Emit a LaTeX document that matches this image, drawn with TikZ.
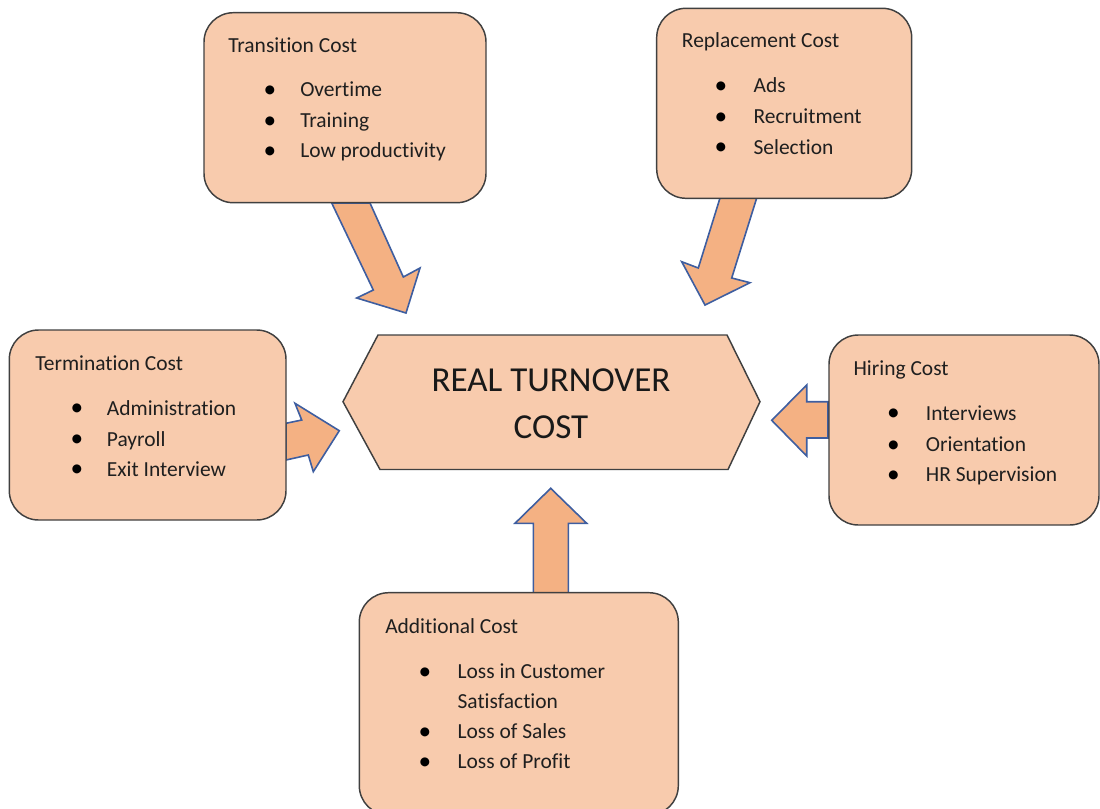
\documentclass[tikz,border=0pt]{standalone}
\usepackage{fontspec}
\setmainfont{Carlito}[Ligatures=NoCommon]
\definecolor{boxfill}{HTML}{F8CBAD}
\definecolor{arrfill}{HTML}{F4B183}
\definecolor{arrline}{RGB}{62,94,160}
\definecolor{boxline}{HTML}{404040}
\begin{document}
\begin{tikzpicture}[x=0.75pt,y=-0.75pt,
  costbox/.style={draw=boxline, fill=boxfill, line width=1.1pt, rounded corners=22pt},
  hexbox/.style={draw=boxline, fill=boxfill, line width=1.1pt, line join=miter},
  blockarrow/.style={draw=arrline, fill=arrfill, line width=1.2pt, line join=miter},
  txt/.style={inner sep=0pt, anchor=base west, font=\fontsize{16.1}{19}\selectfont, text=black!88},
  bul/.style={inner sep=0pt, anchor=base, font=\fontsize{19}{19}\selectfont, text=black},
  big/.style={inner sep=0pt, anchor=base, font=\fontsize{26.3}{32}\selectfont, text=black!90}
]
\useasboundingbox (0,0) rectangle (1100,808);
\clip (0,0) rectangle (1100,808);

% block arrows
\draw[blockarrow] (331.7,203) -- (373.3,290) -- (356.7,298) -- (406,313) -- (420,268) -- (403.3,277) -- (370,203) -- cycle;
\draw[blockarrow] (720,198) -- (698.3,268) -- (681.7,261.7) -- (705,305) -- (750,282.7) -- (731.7,278) -- (756.7,198) -- cycle;
\draw[blockarrow] (286,423.3) -- (301.7,420) -- (295,403.3) -- (339.3,430.7) -- (313.3,471.7) -- (308.3,455) -- (286,460) -- cycle;
\draw[blockarrow] (828,401.7) -- (806.7,401.7) -- (806.7,385) -- (771.7,420.3) -- (806.7,456) -- (806.7,438) -- (828,438) -- cycle;
\draw[blockarrow] (533.3,593) -- (533.3,523.3) -- (515,523.3) -- (550.7,488.3) -- (586.7,523.3) -- (568.3,523.3) -- (568.3,593) -- cycle;

% boxes
\draw[costbox] (204,12.7) rectangle (486,202.7);
\draw[costbox] (656.7,8.3) rectangle (911.7,198.3);
\draw[costbox] (9.3,330) rectangle (286,520);
\draw[costbox] (829,335) rectangle (1099,525);
\draw[costbox] (359.3,592.7) rectangle (678.3,815);

% central hexagon
\draw[hexbox] (343,401.7) -- (378,335) -- (727,335) -- (760,401.7) -- (728,469.5) -- (380,469.5) -- cycle;
\node[big] (c1) at (551,391.7) {REAL TURNOVER};
\node[big] (c2) at (551,438.3) {COST};

% Transition Cost
\node[txt] (t0) at (228,52.3) {Transition Cost};
\node[bul] (tb1) at (270,97.5) {•};
\node[txt] (t1) at (300,96.7) {Overtime};
\node[bul] (tb2) at (270,128.3) {•};
\node[txt] (t2) at (300,127.5) {Training};
\node[bul] (tb3) at (270,158.5) {•};
\node[txt] (t3) at (300,157.7) {Low productivity};

% Replacement Cost
\node[txt] (r0) at (681.7,47.7) {Replacement Cost};
\node[bul] (rb1) at (721,93.5) {•};
\node[txt] (r1) at (753.3,92.7) {Ads};
\node[bul] (rb2) at (721,124.3) {•};
\node[txt] (r2) at (753.3,123.5) {Recruitment};
\node[bul] (rb3) at (721,154.8) {•};
\node[txt] (r3) at (753.3,154) {Selection};

% Termination Cost
\node[txt] (m0) at (35,370) {Termination Cost};
\node[bul] (mb1) at (77,415.8) {•};
\node[txt] (m1) at (106.7,415) {Administration};
\node[bul] (mb2) at (77,446.8) {•};
\node[txt] (m2) at (106.7,446) {Payroll};
\node[bul] (mb3) at (77,476.8) {•};
\node[txt] (m3) at (106.7,476) {Exit Interview};

% Hiring Cost
\node[txt] (h0) at (853.3,375) {Hiring Cost};
\node[bul] (hb1) at (893.5,420.8) {•};
\node[txt] (h1) at (925.7,420) {Interviews};
\node[bul] (hb2) at (893.5,452.3) {•};
\node[txt] (h2) at (925.7,451.5) {Orientation};
\node[bul] (hb3) at (893.5,482.5) {•};
\node[txt] (h3) at (925.7,481.7) {HR Supervision};

% Additional Cost
\node[txt] (a0) at (385,633.3) {Additional Cost};
\node[bul] (ab1) at (425,679.1) {•};
\node[txt] (a1) at (457.3,678.3) {Loss in Customer};
\node[txt] (a1b) at (457.3,708.3) {Satisfaction};
\node[bul] (ab2) at (425,739.1) {•};
\node[txt] (a2) at (457.3,738.3) {Loss of Sales};
\node[bul] (ab3) at (425,769.1) {•};
\node[txt] (a3) at (457.3,768.3) {Loss of Profit};
\end{tikzpicture}
\end{document}
